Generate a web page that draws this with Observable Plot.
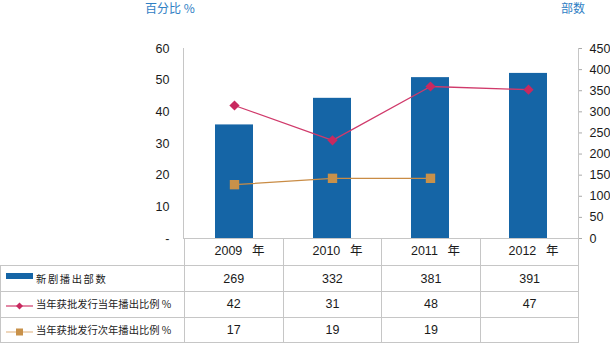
<!DOCTYPE html>
<html><head><meta charset="utf-8">
<script src="https://cdn.jsdelivr.net/npm/d3@7"></script>
<script src="https://cdn.jsdelivr.net/npm/@observablehq/plot@0.6"></script>
<style>
html,body{margin:0;padding:0;background:#fff;}
#wrap{position:relative;width:610px;height:345px;overflow:hidden;font-family:"Liberation Sans","Noto Sans CJK SC",sans-serif;}
#plot{position:absolute;left:0;top:0;z-index:2;}
.ttl{position:absolute;top:0;font-size:12px;line-height:16px;color:#2F80C4;font-family:"Noto Sans CJK SC",sans-serif;white-space:pre;}
table{position:absolute;left:0;top:238px;border-collapse:collapse;table-layout:fixed;width:578.5px;z-index:1;}
td{border:1px solid #c6c6c6;padding:0;text-align:center;font-size:12.5px;color:#1a1a1a;vertical-align:middle;line-height:14px;}
td.lab{text-align:left;font-family:"Noto Sans CJK SC",sans-serif;font-size:10.3px;color:#222;white-space:nowrap;position:relative;padding-left:35px;}
tr.hdr td{height:26px;}
tr.hdr td.blank{border-left:none;border-top:none;}
.sw{position:absolute;left:5px;}
</style>
</head><body>
<div id="wrap">
  <div class="ttl" style="left:145px;">百分比 %</div>
  <div class="ttl" style="left:561px;">部数</div>
  <div id="plot"></div>
  <table id="tbl"></table>
</div>
<script>
const years = ["2009", "2010", "2011", "2012"];
const dramaCount = [269, 332, 381, 391];
const pctSameYear = [42, 31, 48, 47];
const pctNextYear = [17, 19, 19, null];
const countTicks = [0, 50, 100, 150, 200, 250, 300, 350, 400, 450];
const pctTicks = [0, 10, 20, 30, 40, 50, 60];
const seriesNames = ["新剧播出部数", "当年获批发行当年播出比例 %", "当年获批发行次年播出比例 %"];
const yearSuffix = "\u2002 年";

const colors = {bar: "#1565a6", same: "#d03a6b", sameDot: "#c8295f", next: "#c98c45", nextDot: "#c8914a"};

const k = countTicks[countTicks.length - 1] / pctTicks[pctTicks.length - 1];
const rows = years.map((y, i) => ({year: y, count: dramaCount[i], same: pctSameYear[i], next: pctNextYear[i]}));
const nextRows = rows.filter(d => d.next != null);

const chart = Plot.plot({
  width: 610, height: 266,
  marginLeft: 183, marginRight: 32, marginTop: 48, marginBottom: 28,
  style: {background: "transparent", overflow: "visible", fontFamily: "'Liberation Sans', 'Noto Sans CJK SC', sans-serif", fontSize: "12.5px"},
  x: {domain: years, padding: 0},
  y: {domain: [0, 450]},
  marks: [
    Plot.barY(rows, {x: "year", y: "count", fill: colors.bar, insetLeft: 30, insetRight: 30}),
    Plot.line(rows, {x: "year", y: d => d.same * k, stroke: colors.same, strokeWidth: 1.3}),
    Plot.dot(rows, {x: "year", y: d => d.same * k, symbol: "diamond2", r: 4.6, fill: colors.sameDot, stroke: null}),
    Plot.line(nextRows, {x: "year", y: d => d.next * k, stroke: colors.next, strokeWidth: 1.3}),
    Plot.dot(nextRows, {x: "year", y: d => d.next * k, symbol: "square", r: 5.3, fill: colors.nextDot, stroke: null}),
    Plot.axisY(countTicks, {anchor: "right", tickSize: 3, tickPadding: 8, stroke: "#aaa", fill: "#1a1a1a", label: null}),
    Plot.axisY(pctTicks.map(v => v * k), {anchor: "left", tickSize: 0, tickPadding: 14, fill: "#1a1a1a", label: null, tickFormat: v => v === 0 ? "-" : String(v / k)}),
    Plot.axisX({anchor: "bottom", tickSize: 0, tickPadding: 8, dx: 5, fill: "#1a1a1a", label: null, tickFormat: d => d + yearSuffix}),
    Plot.frame({anchor: "left", stroke: "#c6c6c6"}),
    Plot.frame({anchor: "right", stroke: "#c6c6c6"})
  ]
});
document.getElementById("plot").appendChild(chart);

// data table
const tbl = document.getElementById("tbl");
const colg = document.createElement("colgroup");
[184, 98.6, 98.6, 98.6, 98.7].forEach(w => { const c = document.createElement("col"); c.style.width = w + "px"; colg.appendChild(c); });
tbl.appendChild(colg);
const hdr = document.createElement("tr"); hdr.className = "hdr";
const b = document.createElement("td"); b.className = "blank"; hdr.appendChild(b);
years.forEach(() => { const td = document.createElement("td"); hdr.appendChild(td); });
tbl.appendChild(hdr);

const swatches = [
  `<svg class="sw" width="28" height="10" style="top:50%;margin-top:-8px"><rect x="0" y="2" width="27" height="6" fill="${colors.bar}"/></svg>`,
  `<svg class="sw" width="28" height="10" style="top:50%;margin-top:-3px"><line x1="0" x2="27" y1="5" y2="5" stroke="${colors.same}" stroke-width="1.2"/><path d="M13.5,1.5 L17,5 L13.5,8.5 L10,5Z" fill="${colors.sameDot}"/></svg>`,
  `<svg class="sw" width="28" height="10" style="top:50%;margin-top:-3px"><line x1="0" x2="27" y1="5" y2="5" stroke="#e9c9a4" stroke-width="1.5"/><rect x="10" y="1.5" width="7" height="7" fill="${colors.nextDot}"/></svg>`
];
const series = [dramaCount, pctSameYear, pctNextYear];
const heights = [25, 24.5, 24.5];
series.forEach((vals, si) => {
  const tr = document.createElement("tr");
  const lab = document.createElement("td"); lab.className = "lab";
  lab.style.height = heights[si] + "px";
  if (si === 0) lab.style.letterSpacing = "1.6px";
  lab.innerHTML = swatches[si] + seriesNames[si];
  tr.appendChild(lab);
  vals.forEach(v => { const td = document.createElement("td"); td.textContent = v == null ? "" : v; tr.appendChild(td); });
  tbl.appendChild(tr);
});
</script>
</body></html>
